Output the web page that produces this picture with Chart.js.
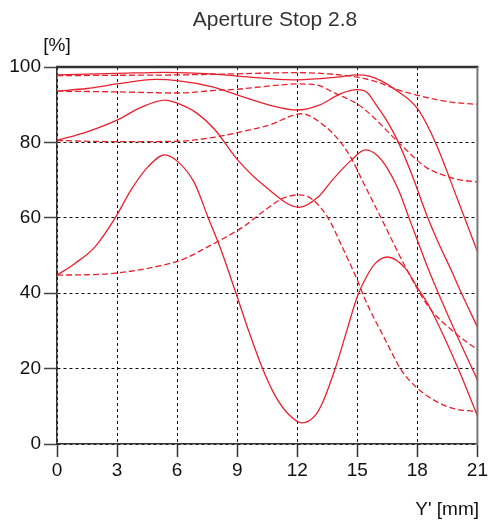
<!DOCTYPE html>
<html>
<head>
<meta charset="utf-8">
<script src="https://cdn.jsdelivr.net/npm/chart.js@4.4.0/dist/chart.umd.min.js"></script>
<style>
  html, body { margin: 0; padding: 0; background: #fff; }
  #wrap { width: 490px; height: 525px; }
</style>
</head>
<body>
<div id="wrap"><canvas id="myChart"></canvas></div>
<script>
// MTF values, Y' in mm, contrast in %
// solid = sagittal, dashed = tangential ; 5 / 10 / 20 / 40 lp/mm
var sag5X  = [0, 3, 5.4, 7.9, 9, 12, 14, 15, 15.6, 16.2, 16.9, 18, 18.9, 20, 21];
var sag5Y  = [97.9, 98.3, 98.6, 98.1, 97.6, 96.6, 97.3, 97.9, 97.6, 96.3, 94, 89, 80, 65, 51];

var sag10X = [0, 1.5, 3, 4.9, 6, 7.7, 9, 10.6, 12, 13.1, 14.2, 15, 15.5, 16, 16.5, 17, 17.7, 18.5, 19.05, 19.7, 20.1, 21];
var sag10Y = [93.6, 94.3, 95.5, 96.7, 96.4, 94.8, 92.6, 89.9, 88.6, 89.9, 93, 94, 93.2, 89.5, 85.5, 80.6, 71.8, 60.3, 53.4, 46, 41.2, 31];

var sag20X = [0, 1.5, 3, 4.2, 5.4, 6, 7, 7.9, 9, 10.4, 12.1, 13.1, 13.75, 14.7, 15.4, 16, 16.5, 17.06, 17.56, 18.06, 18.56, 19.05, 20, 21];
var sag20Y = [80.5, 82.8, 85.9, 89.3, 91.2, 90.4, 87.7, 83.3, 75.5, 68.3, 62.8, 65.8, 70, 75.3, 78, 76.5, 73.1, 67.4, 60.3, 53.2, 46.2, 40, 28.5, 17];

var sag40X = [0, 0.9, 1.9, 2.9, 3.7, 4.54, 5.37, 6.04, 6.87, 7.53, 8.19, 8.94, 9.6, 10.26, 10.93, 11.6, 12.25, 12.9, 13.25, 13.9, 14.45, 15, 15.45, 15.9, 16.5, 17.4, 18, 18.6, 20, 21];
var sag40Y = [44.8, 47.9, 52.3, 59.9, 67.4, 73.5, 76.7, 74.9, 69.2, 60.3, 51.5, 40, 29.6, 20.1, 12.5, 7.7, 5.6, 7.6, 10.8, 20.1, 29.6, 39.1, 44.3, 47.9, 49.6, 46.6, 41.5, 36.4, 20.5, 7.5];

var tan5X  = [0, 3, 6, 9, 12, 13.5, 15, 16, 17, 18, 19, 20, 21];
var tan5Y  = [97.7, 97.8, 97.9, 98.2, 98.5, 98.2, 97.3, 96, 94, 92.5, 91.3, 90.5, 90.1];

var tan10X = [0, 3, 6, 7.9, 9, 10.5, 12, 12.9, 13.9, 15, 15.6, 17.06, 18.4, 19.05, 20, 21];
var tan10Y = [93.6, 93.4, 93.1, 93.8, 94.1, 94.9, 95.5, 95.3, 93, 90.2, 87.7, 80, 73.5, 71.8, 70.2, 69.5];

var tan20X = [0, 3, 6, 7.9, 9, 10.6, 12.2, 13.4, 14.2, 14.75, 15.24, 16.24, 17.4, 18.56, 19.9, 21];
var tan20Y = [80.5, 80.2, 80.3, 81.4, 82.6, 84.6, 87.6, 84.2, 79.8, 75.3, 70, 59.4, 47, 36.4, 29.4, 25];

var tan40X = [0, 1.5, 2.9, 4.9, 6.2, 7.53, 9.35, 10.4, 11.3, 12.1, 12.8, 13.6, 14.2, 15, 15.4, 16.4, 17.2, 18, 19.5, 21];
var tan40Y = [44.8, 44.9, 45.3, 47, 48.8, 52.3, 57.8, 62.1, 65.2, 66.1, 64.7, 59.4, 52.8, 43.5, 38.2, 27.6, 19.6, 14.8, 9.9, 8.5];

var xTicks = [0, 3, 6, 9, 12, 15, 18, 21];
var yTicks = [0, 20, 40, 60, 80, 100];

var red = '#e8212e';
var font = '"Liberation Sans", Arial, sans-serif';

function pts(xs, ys) {
    return xs.map(function (x, i) { return {x: x, y: ys[i]}; });
}
function line(label, xs, ys, dashed) {
    return {
        label: label,
        data: pts(xs, ys),
        borderColor: red,
        borderWidth: 1.3,
        borderDash: dashed ? [6, 3] : [],
        pointRadius: 0,
        fill: false,
        cubicInterpolationMode: 'monotone'
    };
}

// frame + free texts
var extras = {
    id: 'extras',
    afterDraw: function (chart) {
        var ctx = chart.ctx, a = chart.chartArea;
        ctx.save();
        ctx.setLineDash([]);
        ctx.strokeStyle = '#333';
        ctx.lineWidth = 2.5;
        ctx.beginPath(); ctx.moveTo(a.left - 1, a.top); ctx.lineTo(a.right + 1, a.top); ctx.stroke();
        ctx.strokeStyle = '#777';
        ctx.lineWidth = 2;
        ctx.beginPath(); ctx.moveTo(a.right, a.top); ctx.lineTo(a.right, a.bottom); ctx.stroke();

        ctx.textBaseline = 'middle';
        ctx.textAlign = 'center';
        ctx.fillStyle = '#333';
        ctx.font = '21px ' + font;
        ctx.fillText('Aperture Stop 2.8', 275, 20);
        ctx.fillStyle = '#111';
        ctx.font = '19px ' + font;
        ctx.fillText('[%]', 57, 46);
        ctx.textAlign = 'right';
        ctx.fillText("Y' [mm]", 479, 510);
        ctx.restore();
    }
};

var ctx = document.getElementById('myChart').getContext('2d');
var chart = new Chart(ctx, {
    type: 'line',
    data: {
        datasets: [
            line('sag 5', sag5X, sag5Y, false),
            line('sag 10', sag10X, sag10Y, false),
            line('sag 20', sag20X, sag20Y, false),
            line('sag 40', sag40X, sag40Y, false),
            line('tan 5', tan5X, tan5Y, true),
            line('tan 10', tan10X, tan10Y, true),
            line('tan 20', tan20X, tan20Y, true),
            line('tan 40', tan40X, tan40Y, true)
        ]
    },
    options: {
        responsive: true,
        maintainAspectRatio: false,
        animation: false,
        layout: { padding: { top: 67, right: 11, left: 0, bottom: 0 } },
        plugins: {
            legend: { display: false },
            tooltip: { enabled: false },
            title: { display: false }
        },
        scales: {
            x: {
                type: 'linear',
                min: 0,
                max: 21,
                afterFit: function (s) { s.height = 81; },
                afterBuildTicks: function (s) { s.ticks = xTicks.map(function (v) { return {value: v}; }); },
                ticks: { color: '#111', font: { family: font, size: 19 }, padding: 2, maxRotation: 0 },
                grid: { color: '#111', lineWidth: 1, tickLength: 13, tickColor: '#333', tickWidth: 1.5 },
                border: { display: true, color: '#333', width: 1.5, dash: [3, 3] }
            },
            y: {
                min: 0,
                max: 100,
                afterFit: function (s) { s.width = 57; },
                afterBuildTicks: function (s) { s.ticks = yTicks.map(function (v) { return {value: v}; }); },
                ticks: { color: '#111', font: { family: font, size: 19 }, padding: 3 },
                grid: { color: '#111', lineWidth: 1, tickLength: 13, tickColor: '#444', tickWidth: 1.5 },
                border: { display: true, color: '#333', width: 1.5, dash: [3, 3] }
            }
        }
    },
    plugins: [extras]
});
</script>
</body>
</html>
